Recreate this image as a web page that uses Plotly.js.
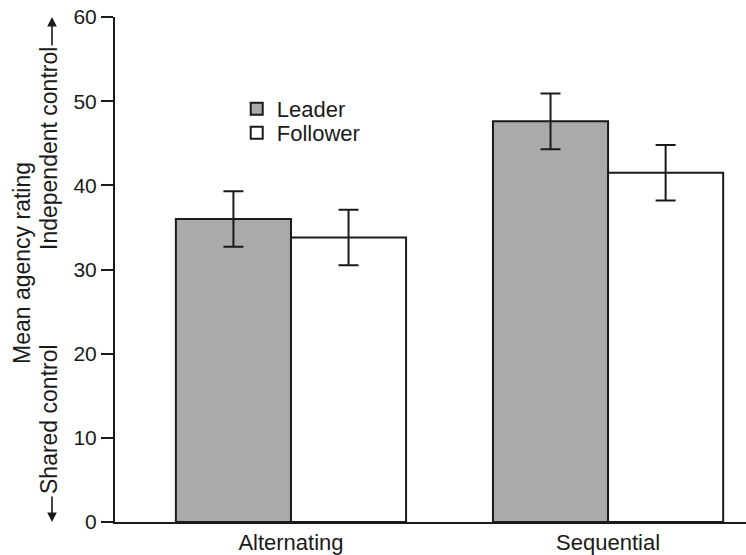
<!DOCTYPE html>
<html>
<head>
<meta charset="utf-8">
<script src="https://cdn.plot.ly/plotly-3.0.1.min.js"></script>
<style>html,body{margin:0;padding:0;background:#fff;}#chart{width:746px;height:555px;}</style>
</head>
<body>
<div id="chart"></div>
<script>
const categories = ['Alternating', 'Sequential'];
const seriesNames = ['Leader', 'Follower'];
const leaderValues = [36.0, 47.6];
const followerValues = [33.8, 41.5];
const leaderErrors = [3.3, 3.3];
const followerErrors = [3.3, 3.3];
const yTickValues = [0, 10, 20, 30, 40, 50, 60];

const FONT = 'Liberation Sans, Arial, Helvetica, sans-serif';
const INK = '#1a1a1a';

const traces = [
  {
    type: 'bar', name: seriesNames[0], x: categories, y: leaderValues, legend: 'legend',
    marker: {color: '#aaaaaa', line: {color: INK, width: 2}},
    error_y: {type: 'data', array: leaderErrors, visible: true, color: INK, thickness: 2, width: 10}
  },
  {
    type: 'bar', name: seriesNames[1], x: categories, y: followerValues, legend: 'legend2',
    marker: {color: '#ffffff', line: {color: INK, width: 2}},
    error_y: {type: 'data', array: followerErrors, visible: true, color: INK, thickness: 2, width: 10}
  }
];

const legendBase = {xanchor: 'left', yanchor: 'top', bgcolor: 'rgba(0,0,0,0)',
                    font: {family: FONT, size: 22, color: INK}, tracegroupgap: 0};

const layout = {
  width: 746, height: 555,
  margin: {l: 115, r: 0, t: 17, b: 33, pad: 0},
  paper_bgcolor: '#ffffff', plot_bgcolor: '#ffffff',
  font: {family: FONT, size: 21, color: INK},
  barmode: 'group', bargap: 0.274, bargroupgap: 0,
  showlegend: true,
  legend: Object.assign({x: 0.1929, y: 0.8594}, legendBase),
  legend2: Object.assign({x: 0.1929, y: 0.8119}, legendBase),
  xaxis: {
    type: 'category', range: [-0.555, 1.435], showline: true, linecolor: INK, linewidth: 2,
    ticks: '', showgrid: false, zeroline: false, fixedrange: true,
    tickfont: {family: FONT, size: 22, color: INK}
  },
  yaxis: {
    range: [0, 60], tickvals: yTickValues, ticktext: yTickValues.map(String),
    showline: true, linecolor: INK, linewidth: 2, ticks: 'outside', ticklen: 12, tickwidth: 2, tickcolor: INK,
    showgrid: false, zeroline: false, fixedrange: true,
    tickfont: {family: FONT, size: 21, color: INK}
  },
  annotations: [
    {xref: 'paper', yref: 'paper', x: (22 - 115) / 631, y: (522 - 263) / 505, text: 'Mean agency rating', textangle: -90,
     showarrow: false, xanchor: 'center', yanchor: 'middle', font: {family: FONT, size: 23, color: INK}},
    {xref: 'paper', yref: 'paper', x: (49 - 115) / 631, y: (522 - 149) / 505, text: 'Independent control', textangle: -90,
     showarrow: false, xanchor: 'center', yanchor: 'middle', font: {family: FONT, size: 23, color: INK}},
    {xref: 'paper', yref: 'paper', x: (49 - 115) / 631, y: (522 - 419) / 505, text: 'Shared control', textangle: -90,
     showarrow: false, xanchor: 'center', yanchor: 'middle', font: {family: FONT, size: 23, color: INK}},
    {xref: 'paper', yref: 'paper', x: (52 - 115) / 631, y: (522 - 17) / 505, text: '', showarrow: true,
     ax: 0, ay: 30, arrowhead: 2, arrowsize: 1.2, arrowwidth: 1.6, arrowcolor: INK},
    {xref: 'paper', yref: 'paper', x: (52 - 115) / 631, y: (522 - 522) / 505, text: '', showarrow: true,
     ax: 0, ay: -27, arrowhead: 2, arrowsize: 1.2, arrowwidth: 1.6, arrowcolor: INK}
  ]
};

Plotly.newPlot('chart', traces, layout, {displayModeBar: false, staticPlot: true});
</script>
</body>
</html>
